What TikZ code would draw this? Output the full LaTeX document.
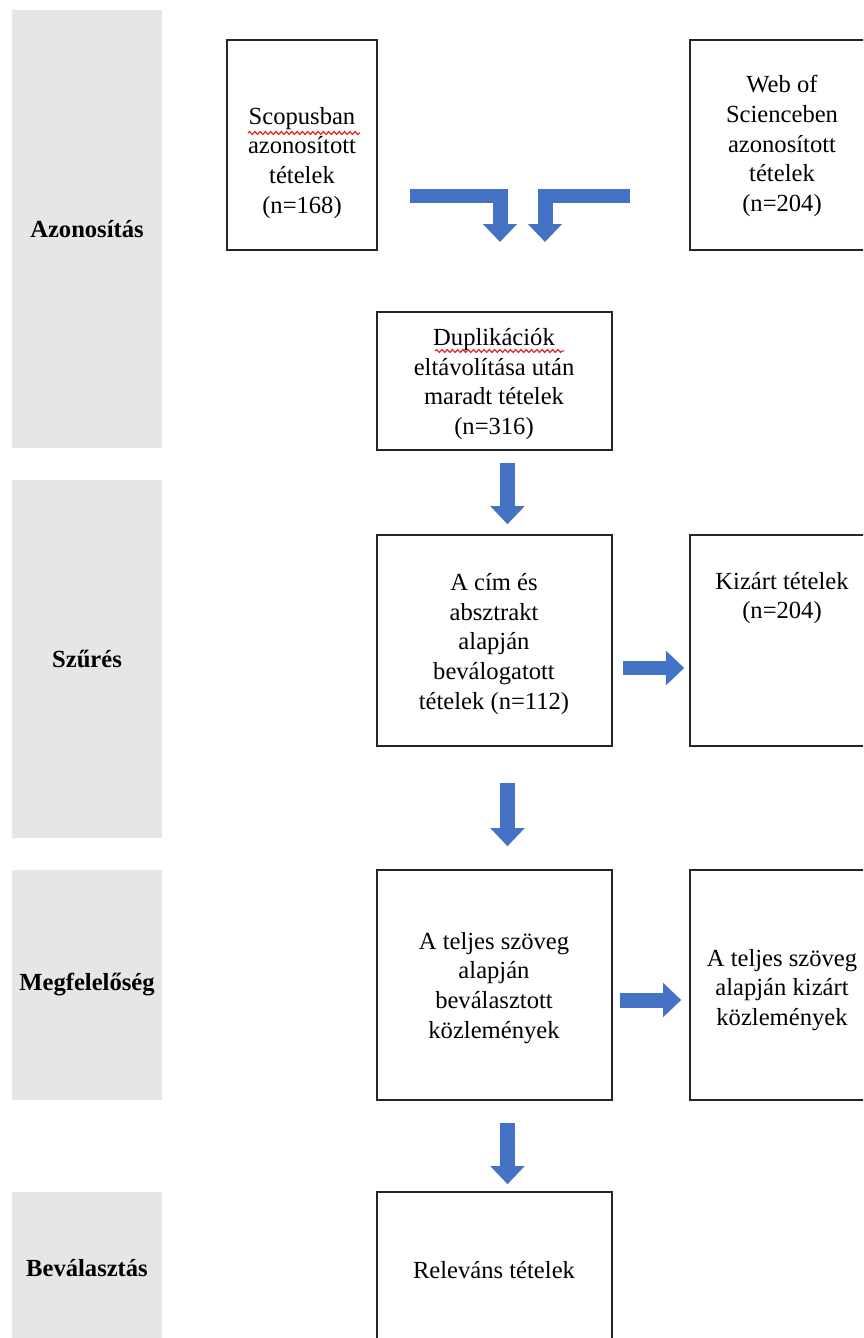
\documentclass[tikz,border=0pt]{standalone}
\usepackage{fontspec}
\setmainfont{Liberation Serif}
\usetikzlibrary{arrows.meta,decorations.pathmorphing}

\definecolor{bandgray}{RGB}{230,230,230}
\definecolor{flowblue}{RGB}{68,114,196}
\definecolor{spellred}{RGB}{225,40,40}

\begin{document}
\begin{tikzpicture}[x=0.02cm,y=-0.02cm,
  band/.style={fill=bandgray,minimum width=3cm,inner sep=0pt,font=\fontsize{14}{17}\selectfont\bfseries},
  box/.style={draw=black!85,line width=0.9pt,inner sep=0pt},
  txt/.style={align=center,inner sep=0pt,font=\fontsize{14}{17}\selectfont},
  flow/.style={flowblue,line width=0.3cm,line join=miter,-{Triangle[width=0.66cm,length=0.36cm]}},
  spell/.style={spellred,line width=0.7pt,decorate,decoration={snake,amplitude=0.8pt,segment length=3pt}}]
\useasboundingbox (0,0) rectangle (863,1338);
\clip (0,0) rectangle (863,1338);
\fill[white] (0,0) rectangle (863,1338);

\node[band,minimum height=8.76cm] (azon) at (87,229) {Azonosítás};
\node[band,minimum height=7.16cm] (szures) at (87,659) {Szűrés};
\node[band,minimum height=4.6cm] (megf) at (87,985) {Megfelelőség};
\node[band,minimum height=3.04cm] (bevalasztas) at (87,1268) {Beválasztás};

\node[box,minimum width=3cm,minimum height=4.2cm] (scopus) at (302,145) {};
\node[box,minimum width=3.68cm,minimum height=4.2cm] (wos) at (782,145) {};
\node[box,minimum width=4.7cm,minimum height=2.76cm] (dupl) at (494.5,381) {};
\node[box,minimum width=4.7cm,minimum height=4.22cm] (cim) at (494.5,640.5) {};
\node[box,minimum width=3.68cm,minimum height=4.22cm] (kizart) at (782,640.5) {};
\node[box,minimum width=4.7cm,minimum height=4.6cm] (teljes) at (494.5,985) {};
\node[box,minimum width=3.68cm,minimum height=4.6cm] (kizartb) at (782,985) {};
\node[box,minimum width=4.7cm,minimum height=3.12cm] (relevans) at (494.5,1270) {};

\node[txt] (scopustext) at (302,163) {Scopusban\\azonosított\\tételek\\(n=168)};
\node[txt] (wostext) at (782,146) {Web of\\Scienceben\\azonosított\\tételek\\(n=204)};
\node[txt] (dupltext) at (494,384) {Duplikációk\\eltávolítása után\\maradt tételek\\(n=316)};
\node[txt] (cimtext) at (494,644) {A cím és\\absztrakt\\alapján\\beválogatott\\tételek (n=112)};
\node[txt] (kizarttext) at (782,598) {Kizárt tételek\\(n=204)};
\node[txt] (teljestext) at (494,988) {A teljes szöveg\\alapján\\beválasztott\\közlemények};
\node[txt] (kizartbtext) at (782,990) {A teljes szöveg\\alapján kizárt\\közlemények};
\node[txt] (relevanstext) at (494,1270) {Releváns tételek};

\draw[spell] (248,133) -- (360,133);
\draw[spell] (435,351) -- (564,351);

\coordinate (lstart) at (410,196);
\coordinate (lend) at (500,242);
\coordinate (rstart) at (630,196);
\coordinate (rend) at (545,242);
\draw[flow] (lstart) -| (lend);
\draw[flow] (rstart) -| (rend);

\draw[flow,shorten <=0.24cm,shorten >=0.2cm] ([xshift=0.26cm]dupl.south) -- ([xshift=0.26cm]cim.north);
\draw[flow,shorten <=0.72cm,shorten >=0.46cm] ([xshift=0.26cm]cim.south) -- ([xshift=0.26cm]teljes.north);
\draw[flow,shorten <=0.44cm,shorten >=0.14cm] ([xshift=0.26cm]teljes.south) -- ([xshift=0.26cm]relevans.north);
\draw[flow,shorten <=0.2cm,shorten >=0.1cm] ([yshift=-0.55cm]cim.east) -- ([yshift=-0.55cm]kizart.west);
\draw[flow,shorten <=0.14cm,shorten >=0.16cm] ([yshift=-0.3cm]teljes.east) -- ([yshift=-0.3cm]kizartb.west);
\end{tikzpicture}
\end{document}
